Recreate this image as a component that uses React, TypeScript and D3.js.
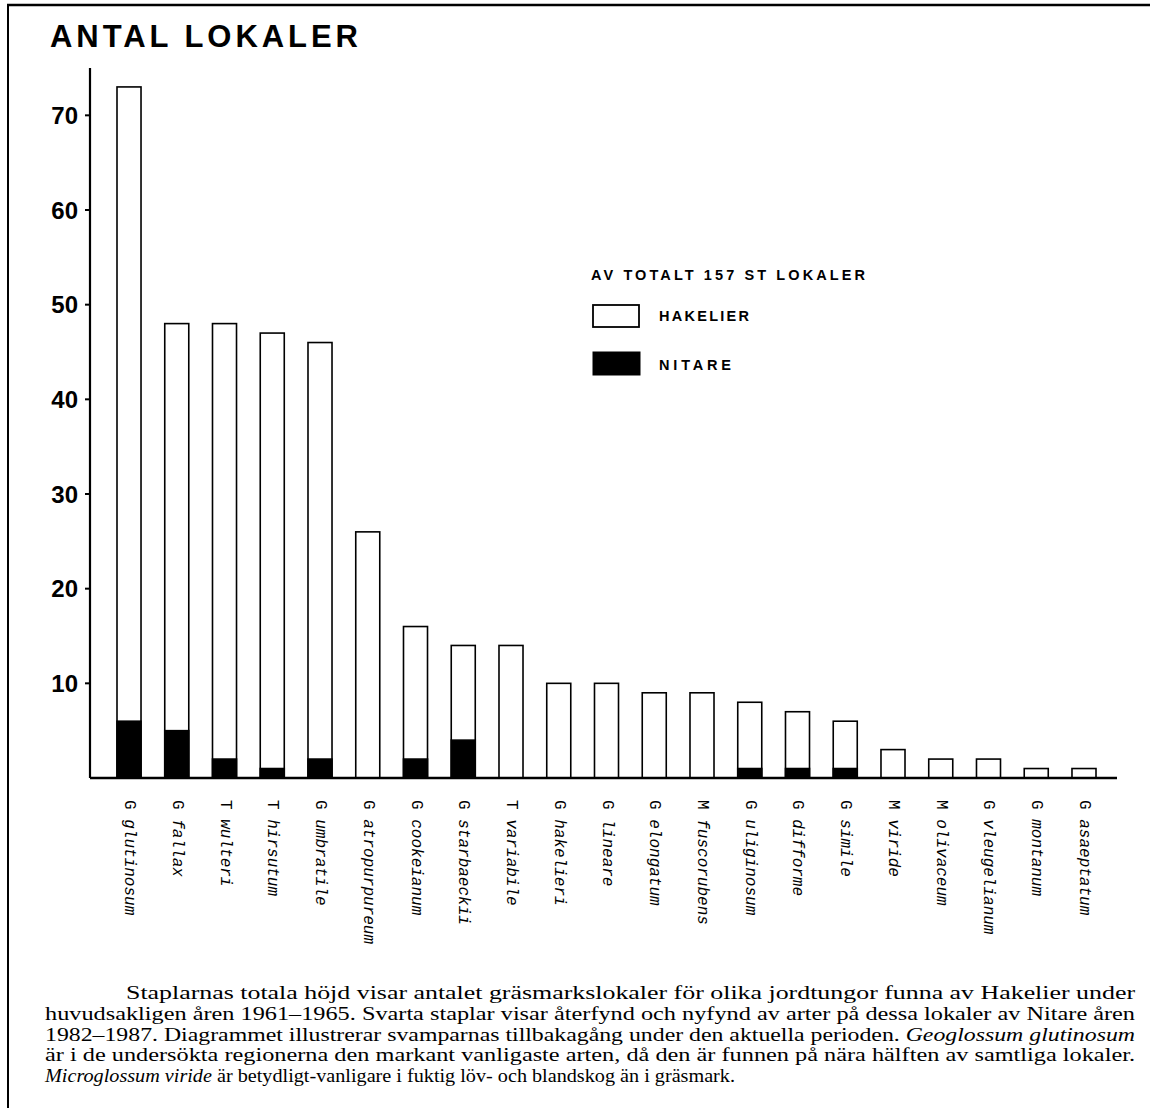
import React from "react";
import * as d3 from "d3";

const genus = ["G", "G", "T", "T", "G", "G", "G", "G", "T", "G", "G", "G", "M", "G", "G", "G", "M", "M", "G", "G", "G"];
const species = [
  "glutinosum", "fallax", "wulteri", "hirsutum", "umbratile", "atropurpureum", "cookeianum",
  "starbaeckii", "variabile", "hakelieri", "lineare", "elongatum", "fuscorubens", "uliginosum",
  "difforme", "simile", "viride", "olivaceum", "vleugelianum", "montanum", "asaeptatum",
];
const hakelier = [73, 48, 48, 47, 46, 26, 16, 14, 14, 10, 10, 9, 9, 8, 7, 6, 3, 2, 2, 1, 1];
const nitare = [6, 5, 2, 1, 2, 0, 2, 4, 0, 0, 0, 0, 0, 1, 1, 1, 0, 0, 0, 0, 0];
const yTicks = [10, 20, 30, 40, 50, 60, 70];

const title = "ANTAL LOKALER";
const legendTitle = "AV TOTALT 157 ST LOKALER";
const legendItems = ["HAKELIER", "NITARE"];

type Seg = { t: string; i?: boolean };
const captionLines: Seg[][] = [
  [{ t: "Staplarnas totala höjd visar antalet gräsmarkslokaler för olika jordtungor funna av Hakelier under" }],
  [{ t: "huvudsakligen åren 1961–1965. Svarta staplar visar återfynd och nyfynd av arter på dessa lokaler av Nitare åren" }],
  [{ t: "1982–1987. Diagrammet illustrerar svamparnas tillbakagång under den aktuella perioden. " }, { t: "Geoglossum glutinosum", i: true }],
  [{ t: "är i de undersökta regionerna den markant vanligaste arten, då den är funnen på nära hälften av samtliga lokaler." }],
  [{ t: "Microglossum viride", i: true }, { t: " är betydligt-vanligare i fuktig löv- och blandskog än i gräsmark." }],
];

const keys = species.map((s, i) => genus[i] + " " + s);

export default function App() {
  const W = 1150;
  const H = 1108;
  const x = d3.scaleBand<string>().domain(keys).range([117, 1096]).paddingInner(0.497).paddingOuter(0);
  const y = d3.scaleLinear().domain([0, 75]).range([778, 68]);
  const sans = "'Liberation Sans', Arial, sans-serif";
  const serif = "'Liberation Serif', 'Times New Roman', serif";
  const mono = "'Liberation Mono', 'Courier New', monospace";

  const capX = [126, 45, 45, 45, 45];
  const capEnd = [1135, 1135, 1135, 1135, 735];
  const capY = [999, 1020, 1041, 1061, 1082];

  return (
    <svg width={W} height={H} style={{ position: "absolute", left: 0, top: 0, background: "#fff" }}>
      <rect x={0} y={0} width={W} height={H} fill="#fff" />
      {/* frame */}
      <line x1={7} x2={W} y1={5} y2={5} stroke="#000" strokeWidth={2.5} />
      <line x1={8} x2={8} y1={5} y2={H} stroke="#000" strokeWidth={2} />

      {/* title */}
      <text x={50} y={47} fontFamily={sans} fontWeight="bold" fontSize={31} textLength={308} lengthAdjust="spacing">
        {title}
      </text>

      {/* y axis */}
      <line x1={90} x2={90} y1={y(75)} y2={y(0)} stroke="#000" strokeWidth={2.2} />
      {yTicks.map((t) => (
        <g key={t}>
          <line x1={85} x2={90} y1={y(t)} y2={y(t)} stroke="#000" strokeWidth={2} />
          <text x={78} y={y(t)} textAnchor="end" dominantBaseline="central" fontFamily={sans} fontWeight="bold" fontSize={24}>
            {t}
          </text>
        </g>
      ))}

      {/* bars */}
      {keys.map((k, i) => (
        <g key={k}>
          <rect
            x={x(k)}
            y={y(hakelier[i])}
            width={x.bandwidth()}
            height={y(0) - y(hakelier[i])}
            fill="#fff"
            stroke="#000"
            strokeWidth={1.6}
          />
          {nitare[i] > 0 && (
            <rect x={x(k)} y={y(nitare[i])} width={x.bandwidth()} height={y(0) - y(nitare[i])} fill="#000" stroke="#000" strokeWidth={1.6} />
          )}
        </g>
      ))}

      {/* baseline */}
      <line x1={90} x2={1117} y1={y(0)} y2={y(0)} stroke="#000" strokeWidth={2.5} />

      {/* x labels */}
      {keys.map((k, i) => {
        const cx = (x(k) as number) + x.bandwidth() / 2;
        return (
          <text
            key={k}
            transform={`translate(${cx},800) rotate(90)`}
            dominantBaseline="central"
            fontFamily={mono}
            fontSize={16}
          >
            <tspan>{genus[i]} </tspan>
            <tspan fontStyle="italic">{species[i]}</tspan>
          </text>
        );
      })}

      {/* legend */}
      <text x={591} y={280} fontFamily={sans} fontWeight="bold" fontSize={14.5} textLength={274} lengthAdjust="spacing">
        {legendTitle}
      </text>
      <rect x={593} y={305} width={46} height={22} fill="#fff" stroke="#000" strokeWidth={1.8} />
      <text x={659} y={320.5} fontFamily={sans} fontWeight="bold" fontSize={14.5} textLength={90} lengthAdjust="spacing">
        {legendItems[0]}
      </text>
      <rect x={593} y={352} width={47} height={23} fill="#000" stroke="#000" strokeWidth={1} />
      <text x={659} y={369.5} fontFamily={sans} fontWeight="bold" fontSize={14.5} textLength={72} lengthAdjust="spacing">
        {legendItems[1]}
      </text>

      {/* caption */}
      {captionLines.map((segs, li) => (
        <text
          key={li}
          x={capX[li]}
          y={capY[li]}
          fontFamily={serif}
          fontSize={19}
          textLength={capEnd[li] - capX[li]}
          lengthAdjust="spacingAndGlyphs"
        >
          {segs.map((s, si) => (
            <tspan key={si} fontStyle={s.i ? "italic" : "normal"}>
              {s.t}
            </tspan>
          ))}
        </text>
      ))}
    </svg>
  );
}
